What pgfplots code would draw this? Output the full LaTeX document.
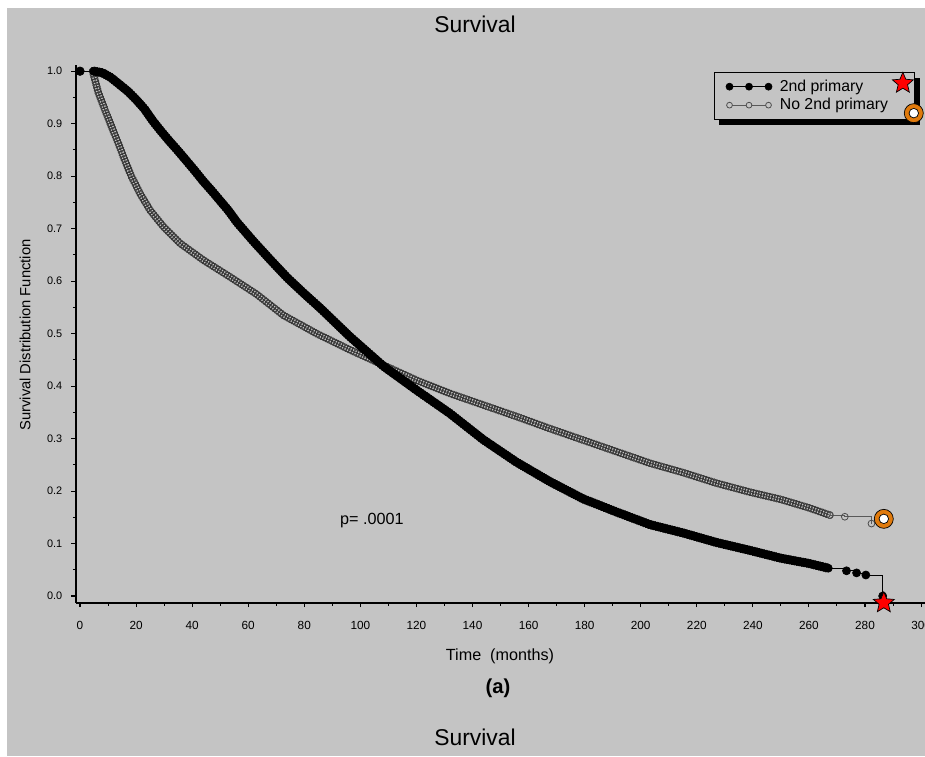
\documentclass[border=0pt]{standalone}
\usepackage{fontspec}
\setmainfont{Liberation Sans}
\usepackage{pgfplots}
\pgfplotsset{compat=1.18}
\usetikzlibrary{decorations.markings}

\definecolor{bggray}{RGB}{196,196,196}
\definecolor{ringorange}{RGB}{224,122,12}

% filled five-pointed star used for the overlaid annotations
\pgfdeclareplotmark{fivestar}{%
  \pgfpathmoveto{\pgfpointpolar{90}{\pgfplotmarksize}}%
  \pgfpathlineto{\pgfpointpolar{126}{0.45\pgfplotmarksize}}%
  \pgfpathlineto{\pgfpointpolar{162}{\pgfplotmarksize}}%
  \pgfpathlineto{\pgfpointpolar{198}{0.45\pgfplotmarksize}}%
  \pgfpathlineto{\pgfpointpolar{234}{\pgfplotmarksize}}%
  \pgfpathlineto{\pgfpointpolar{270}{0.45\pgfplotmarksize}}%
  \pgfpathlineto{\pgfpointpolar{306}{\pgfplotmarksize}}%
  \pgfpathlineto{\pgfpointpolar{342}{0.45\pgfplotmarksize}}%
  \pgfpathlineto{\pgfpointpolar{18}{\pgfplotmarksize}}%
  \pgfpathlineto{\pgfpointpolar{54}{0.45\pgfplotmarksize}}%
  \pgfpathclose
  \pgfusepathqfillstroke
}

\pgfplotsset{
  kmaxis/.style={
    at={(1.52cm,-12.054cm)}, anchor=south west,
    scale only axis, width=16.98cm, height=10.75cm,
    xmin=-1.43, xmax=301.4, ymin=-0.0128, ymax=1.0114,
    clip=false,
  },
  filledchain/.style={black, thin, postaction={decorate},
    decoration={markings, mark=between positions 0 and 1 step 0.05cm with {\fill[black] (0pt,0pt) circle (0.085cm);}}},
  openchain/.style={black!70, thin, postaction={decorate},
    decoration={markings, mark=between positions 0 and 1 step 0.055cm with {\draw[black!78, line width=0.5pt] (0pt,0pt) circle (0.068cm);}}},
}

\begin{document}
\begin{tikzpicture}
\fill[white] (0,0) rectangle (18.5,-15.12);
\fill[bggray] (0.14,-0.16) rectangle (18.5,-15.12);
\node[font=\fontsize{13}{15}\selectfont] at (9.5,-0.48) {Survival};
\node[font=\fontsize{13}{15}\selectfont] at (9.5,-14.74) {Survival};
\node[font=\bfseries\fontsize{11.5}{13}\selectfont] at (9.96,-13.76) {(a)};

\begin{axis}[kmaxis,
  axis x line=bottom, axis y line=left,
  axis line style={-, line width=1pt},
  tick style={black, line width=0.6pt},
  tick align=outside, major tick length=0.09cm, minor tick length=0.06cm,
  xtick={0,20,...,300}, minor x tick num=1,
  ytick={0,0.1,0.2,0.3,0.4,0.5,0.6,0.7,0.8,0.9,1.0}, minor y tick num=1,
  /pgf/number format/assume math mode=true,
  yticklabel style={font=\fontsize{6.2}{7}\selectfont, xshift=-0.06cm, /pgf/number format/.cd, fixed, fixed zerofill, precision=1},
  xticklabel style={font=\fontsize{6.7}{7}\selectfont, yshift=-0.15cm},
  xlabel={Time\ \ (months)},
  ylabel={Survival Distribution Function},
  every axis x label/.style={at={(rel axis cs:0.4994,-0.0991)}, anchor=center, font=\fontsize{9.2}{10}\selectfont},
  every axis y label/.style={at={(rel axis cs:-0.060,0.498)}, rotate=90, anchor=center, font=\fontsize{8.4}{10}\selectfont},
  legend style={name=lgd, at={(axis cs:226.1,0.998)}, anchor=north west, fill=bggray, draw=black,
    font=\fontsize{9}{10}\selectfont, inner xsep=6.5pt, inner ysep=2pt, row sep=-1.5pt,
    /tikz/every odd column/.append style={column sep=0.08cm}},
  legend cell align=left,
]
% legend glyphs
\addlegendimage{legend image code/.code={%
  \draw[black, line width=0.4pt] (0cm,0cm) -- (0.78cm,0cm);
  \foreach \xx in {0,0.39,0.78} \fill[black] (\xx cm,0cm) circle (0.07cm);}}
\addlegendentry{\makebox[2.40cm][l]{2nd primary}}
\addlegendimage{legend image code/.code={%
  \draw[black!65, line width=0.4pt] (0cm,0cm) -- (0.78cm,0cm);
  \foreach \xx in {0,0.39,0.78} \draw[black!70, line width=0.45pt, fill=bggray] (\xx cm,0cm) circle (0.058cm);}}
\addlegendentry{\makebox[2.40cm][l]{No 2nd primary}}

% No 2nd primary, dense part
\addplot[openchain, forget plot] coordinates {
 (4.5,1.000) (6.5,0.960) (8.9,0.926) (11.3,0.894) (13.7,0.862) (16.0,0.830)
 (18.4,0.799) (21.4,0.767) (25.0,0.735) (29.7,0.704) (35.7,0.672) (44.0,0.640)
 (53.5,0.608) (63.0,0.575) (72.5,0.535) (84.4,0.500) (96.3,0.469) (108.2,0.440)
 (120.1,0.411) (131.9,0.386) (143.8,0.364) (155.7,0.342) (167.6,0.319) (179.5,0.297)
 (191.4,0.275) (203.3,0.253) (215.2,0.235) (227.0,0.215) (238.9,0.198) (250.0,0.184)
 (260.0,0.168) (267.5,0.154)
};
% No 2nd primary, tail
\addplot[const plot, black!65, thin, mark=o, mark size=0.068cm,
  mark options={black!70, line width=0.45pt}, forget plot] coordinates {
 (267.5,0.154) (272.8,0.151) (282.3,0.138)
};

% 2nd primary, start
\addplot[black, thin, mark=*, mark size=0.085cm, mark repeat=2, forget plot] coordinates {
 (0,1.000) (5,1.000)
};
% 2nd primary, dense part
\addplot[filledchain, forget plot] coordinates {
 (5.0,1.000) (8.0,0.997) (11.0,0.988) (14.0,0.975) (17.0,0.962) (20.0,0.946)
 (23.0,0.928) (26.0,0.905) (29.0,0.885) (32.0,0.866) (35.0,0.848) (38.0,0.829)
 (41.0,0.810) (44.0,0.790) (47.0,0.772) (50.0,0.753) (53.0,0.734) (56.0,0.712)
 (62.0,0.675) (68.0,0.640) (74.0,0.606) (80.0,0.576) (86.0,0.547) (96.3,0.494)
 (108.2,0.438) (120.1,0.392) (131.9,0.348) (143.8,0.298) (155.7,0.255) (167.6,0.218)
 (179.5,0.185) (191.4,0.160) (203.3,0.136) (215.2,0.120) (227.0,0.102) (238.9,0.087)
 (250.0,0.072) (260.0,0.062) (266.9,0.053)
};
% 2nd primary, tail
\addplot[const plot, black, thin, mark=*, mark size=0.08cm, forget plot] coordinates {
 (266.9,0.053) (273.4,0.048) (277.0,0.044) (280.3,0.040) (286.3,0.000)
};

\node[font=\fontsize{9.2}{10}\selectfont] at (axis cs:104.1,0.143) {p= .0001};
\end{axis}

% solid shadow of the legend box
\fill[black] ([xshift=0.1cm]lgd.south west) rectangle ([xshift=0.1cm,yshift=-0.11cm]lgd.south east);
\fill[black] ([yshift=-0.12cm]lgd.north east) rectangle ([xshift=0.1cm]lgd.south east);

% overlaid annotations, drawn above the legend
\begin{axis}[kmaxis, hide axis]
\addplot[only marks, mark=fivestar, mark size=0.22cm,
  mark options={fill=red, draw=black, line width=0.4pt}] coordinates {(286.7,-0.013) (293.5,0.977)};
\addplot[only marks, mark=*, mark size=0.19cm,
  mark options={fill=ringorange, draw=black, line width=0.4pt}] coordinates {(286.7,0.147) (297.4,0.920)};
\addplot[only marks, mark=*, mark size=0.095cm,
  mark options={fill=white, draw=black, line width=0.4pt}] coordinates {(286.7,0.147) (297.4,0.920)};
\end{axis}

\pgfresetboundingbox
\useasboundingbox (0,0) rectangle (18.5,-15.12);
\end{tikzpicture}
\end{document}
